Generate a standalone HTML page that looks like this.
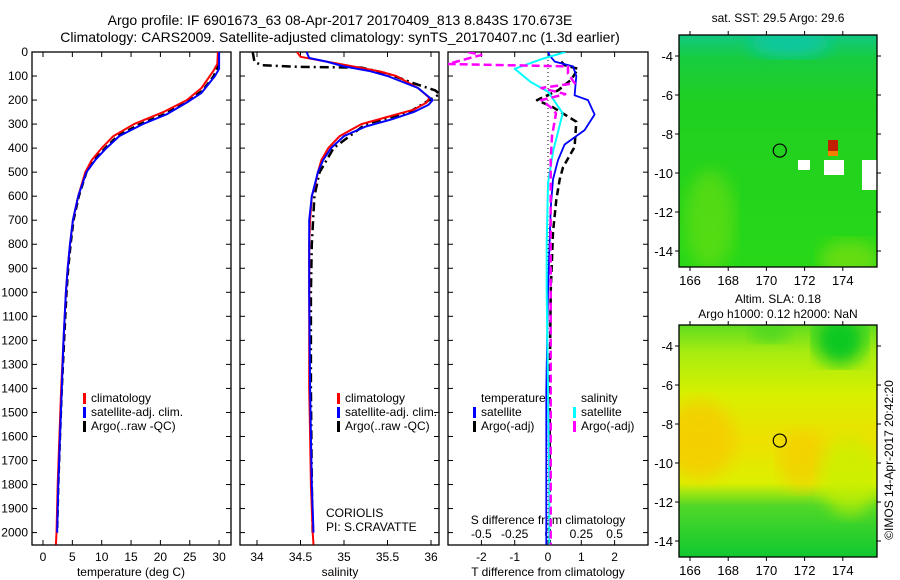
<!DOCTYPE html>
<html><head><meta charset="utf-8"><style>
body{margin:0;background:#fff;}
svg{display:block;font-family:"Liberation Sans",sans-serif;}
</style></head><body>
<svg id="c" width="900" height="580" viewBox="0 0 900 580">
<defs>
<linearGradient id="sstg" x1="0" y1="0" x2="0" y2="1">
<stop offset="0" stop-color="#10c880"/><stop offset="0.1" stop-color="#18cc40"/><stop offset="0.3" stop-color="#20d020"/><stop offset="1" stop-color="#28d818"/>
</linearGradient>
<linearGradient id="slag" x1="0" y1="0" x2="0" y2="1">
<stop offset="0" stop-color="#60dc20"/><stop offset="0.12" stop-color="#a8ec10"/><stop offset="0.3" stop-color="#d8f000"/><stop offset="0.5" stop-color="#eee000"/><stop offset="0.68" stop-color="#dcf000"/><stop offset="0.78" stop-color="#50d828"/><stop offset="1" stop-color="#10c830"/>
</linearGradient>
<filter id="bl"><feGaussianBlur stdDeviation="8"/></filter>
</defs>
<g id="title" font-size="14" text-anchor="middle">
<text x="340" y="25">Argo profile: IF 6901673_63 08-Apr-2017 20170409_813 8.843S 170.673E</text>
<text x="340" y="42">Climatology: CARS2009. Satellite-adjusted climatology: synTS_20170407.nc (1.3d earlier)</text>
</g>
<g id="plots"></g>
<g id="maps"></g>
<text transform="translate(893,460) rotate(-90)" text-anchor="middle" font-size="12">©IMOS 14-Apr-2017 20:42:20</text>
</svg>
<script>
// ---- data (depth in m) ----
const climTdep = [0,50,80,150,200,250,300,350,400,450,500,600,700,800,900,1000,1200,1400,1600,1800,2000,2050];
const climT    = [29.8,29.7,29.0,27.0,24.5,20.5,15.5,12.0,10.0,8.3,7.2,6.0,5.1,4.6,4.2,3.9,3.5,3.1,2.8,2.5,2.3,2.2];
const satTdep  = [0,70,100,170,210,260,300,350,400,450,500,600,700,800,900,1000,1200,1400,1600,1800,2000];
const satT     = [30.0,30.0,29.3,27.0,24.5,21.0,17.0,13.0,10.8,8.9,7.4,6.0,5.1,4.6,4.2,3.9,3.5,3.2,2.9,2.6,2.4];
const argoTdep = [0,60,100,160,210,260,300,350,400,450,500,600,700,800,900,1000,1200,1400,1600,1800,2000];
const argoT    = [29.9,29.8,29.1,27.2,24.4,20.6,16.5,12.7,10.6,8.7,7.4,6.1,5.2,4.7,4.3,4.0,3.6,3.2,2.9,2.6,2.4];

const climSdep = [0,20,40,60,80,100,150,190,210,240,270,300,350,400,450,500,550,600,700,800,1000,1400,1600,1800,2000,2050];
const climS    = [34.46,34.5,34.8,35.1,35.4,35.6,35.85,35.98,35.95,35.8,35.5,35.2,34.95,34.82,34.74,34.7,34.67,34.63,34.61,34.6,34.6,34.6,34.61,34.62,34.64,34.65];
const satSdep  = [0,25,40,60,80,100,150,200,220,250,280,310,350,400,450,500,600,700,800,1000,1400,1600,1800,2000];
const satS     = [34.57,34.6,34.8,35.0,35.3,35.5,35.85,36.02,35.97,35.8,35.55,35.25,35.0,34.85,34.76,34.7,34.63,34.6,34.6,34.6,34.61,34.62,34.63,34.65];
const argoSdep = [0,40,55,62,65,90,130,160,175,200,250,300,400,500,600,800,1000,1400,1800,2000];
const argoS    = [33.95,33.97,34.05,34.5,35.2,35.5,35.8,36.05,36.1,35.98,35.75,35.25,34.88,34.72,34.66,34.63,34.62,34.62,34.63,34.64];

const dTsatDep = [0,15,40,60,100,180,200,260,325,385,450,530,650,780,1000,1400,1800,2050];
const dTsat    = [0,0.05,0.2,0.75,0.85,0.8,1.2,1.4,1.1,0.5,0.3,0.15,0.08,0.05,0.0,-0.05,-0.05,-0.05];
const dTargoDep= [40,55,70,115,160,200,230,290,395,480,530,615,750,1000,1400,1800,2050];
const dTargo   = [0.4,0.5,0.9,0.7,0.3,-0.33,0.15,0.85,0.8,0.45,0.35,0.25,0.15,0.08,0.05,0.05,0.05];
const dSsatDep = [0,30,70,125,165,255,410,545,800,1000,1400,1800,2050];
const dSsat    = [0.13,-0.05,-0.25,-0.13,0.0,0.11,0.04,0.0,-0.01,-0.01,0.0,0.01,0.01];
const dSargoDep= [0,12,50,60,90,130,150,175,200,230,255,350,450,700,1500,2050];
const dSargo   = [-0.6,-0.5,-0.75,0.15,0.15,0.2,-0.05,0.13,-0.05,0.02,0.06,0.03,0.02,0.02,0.02,0.02];

const depthTicks = [0,100,200,300,400,500,600,700,800,900,1000,1100,1200,1300,1400,1500,1600,1700,1800,1900,2000];
const tTicks = [0,5,10,15,20,25,30];
const sTicks = [34,34.5,35,35.5,36];
const dTTicks = [-2,-1,0,1,2];
const dSTicks = [-0.5,-0.25,0,0.25,0.5];
const lonTicks = [166,168,170,172,174];
const latTicks = [-4,-6,-8,-10,-12,-14];

// ---- geometry ----
const Y0=52, Y1=545, yD = d => Y0 + d*0.2403;
const P1={x0:32,x1:231}, P2={x0:240,x1:439}, P3={x0:448,x1:648};
const xT = t => 43 + t*5.87;
const xS = s => 257 + (s-34)*87;
const xdT = v => 548 + v*33.3;
const xdS = v => 548 + v*133.3;
const NS="http://www.w3.org/2000/svg";
const plots=document.getElementById('plots');
function el(tag,attrs,parent){const e=document.createElementNS(NS,tag);for(const k in attrs)e.setAttribute(k,attrs[k]);(parent||plots).appendChild(e);return e;}
function txt(x,y,s,attrs,parent){const e=el('text',Object.assign({x:x,y:y,'font-size':12},attrs||{}),parent);e.textContent=s;return e;}

function panel(P,name){
  const g=el('g',{});
  
  
  const r=el('rect',{x:P.x0,y:Y0,width:P.x1-P.x0,height:Y1-Y0,fill:'none',stroke:'#000','stroke-width':1.3},g);
  
  
  depthTicks.forEach(d=>{
    el('line',{x1:P.x0,x2:P.x0+5,y1:yD(d),y2:yD(d),stroke:'#000'},g);
    el('line',{x1:P.x1-5,x2:P.x1,y1:yD(d),y2:yD(d),stroke:'#000'},g);
  });
  return g;
}
function line(dep,val,fx,color,w,dash,name,clip){
  const pts=dep.map((d,i)=>fx(val[i]).toFixed(1)+','+yD(d).toFixed(1)).join(' ');
  const p=el('polyline',{points:pts,fill:'none',stroke:color,'stroke-width':w,'stroke-linejoin':'round'});
  if(dash)p.setAttribute('stroke-dasharray',dash);
  if(clip)p.setAttribute('clip-path',clip);
  
  
}
const defs=document.querySelector('defs');
[[P1,'c1'],[P2,'c2'],[P3,'c3']].forEach(([P,id])=>{const cp=el('clipPath',{id:id},defs);el('rect',{x:P.x0,y:Y0,width:P.x1-P.x0,height:Y1-Y0},cp);});

// panel 1
panel(P1,'temperature-panel');
depthTicks.forEach(d=>{const t=txt(28,yD(d)+4,String(d),{'text-anchor':'end'});});
tTicks.forEach(t=>{el('line',{x1:xT(t),x2:xT(t),y1:Y1,y2:Y1-5,stroke:'#000'});el('line',{x1:xT(t),x2:xT(t),y1:Y0,y2:Y0+5,stroke:'#000'});
  const l=txt(xT(t),561,String(t),{'text-anchor':'middle'});});
{const a=txt(131,576,'temperature (deg C)',{'text-anchor':'middle'});}
line(argoTdep,argoT,xT,'#000',2.5,'7,4','argo-temperature-line','url(#c1)');
line(climTdep,climT,xT,'#f00',2,null,'climatology-temperature-line','url(#c1)');
line(satTdep,satT,xT,'#00f',2,null,'satellite-temperature-line','url(#c1)');

// panel 2
panel(P2,'salinity-panel');
sTicks.forEach(s=>{el('line',{x1:xS(s),x2:xS(s),y1:Y1,y2:Y1-5,stroke:'#000'});el('line',{x1:xS(s),x2:xS(s),y1:Y0,y2:Y0+5,stroke:'#000'});
  const l=txt(xS(s),561,String(s),{'text-anchor':'middle'});});
{const a=txt(340,576,'salinity',{'text-anchor':'middle'});}
line(argoSdep,argoS,xS,'#000',2.5,'9,4,2,4','argo-salinity-line','url(#c2)');
line(climSdep,climS,xS,'#f00',2,null,'climatology-salinity-line','url(#c2)');
line(satSdep,satS,xS,'#00f',2,null,'satellite-salinity-line','url(#c2)');

function legend(x,rows,name){
  const g=el('g',{});
  
  
  rows.forEach((r,i)=>{const y=402+i*14;
    el('rect',{x:x,y:y-9,width:3,height:11,fill:r[0]},g);
    const t=txt(x+8,y,r[1],{},g);});
}
legend(83,[['#f00','climatology'],['#00f','satellite-adj. clim.'],['#000','Argo(..raw -QC)']],'temperature-legend');
legend(337,[['#f00','climatology'],['#00f','satellite-adj. clim.'],['#000','Argo(..raw -QC)']],'salinity-legend');
{const a=txt(326,517,'CORIOLIS');
 const b=txt(326,531,'PI: S.CRAVATTE');}

// panel 3
panel(P3,'difference-panel');
dTTicks.forEach(t=>{el('line',{x1:xdT(t),x2:xdT(t),y1:Y1,y2:Y1-5,stroke:'#000'});el('line',{x1:xdT(t),x2:xdT(t),y1:Y0,y2:Y0+5,stroke:'#000'});
  const l=txt(xdT(t),561,String(t),{'text-anchor':'middle'});});
dSTicks.forEach(s=>{const l=txt(xdS(s),538,String(s),{'text-anchor':'middle'});});
{const a=txt(548,576,'T difference from climatology',{'text-anchor':'middle'});
 const b=txt(548,524,'S difference from climatology',{'text-anchor':'middle'});}
el('line',{x1:548,x2:548,y1:Y0,y2:Y1,stroke:'#000','stroke-dasharray':'1,3'});
line(dTargoDep,dTargo,xdT,'#000',2.5,'7,4','argo-t-difference-line','url(#c3)');
line(dTsatDep,dTsat,xdT,'#00f',1.8,null,'satellite-t-difference-line','url(#c3)');
line(dSsatDep,dSsat,xdS,'#0ff',2,null,'satellite-s-difference-line','url(#c3)');
line(dSargoDep,dSargo,xdS,'#f0f',2.5,'8,4','argo-s-difference-line','url(#c3)');
{const g=el('g',{});
 txt(481,402,'temperature',{},g);txt(581,402,'salinity',{},g);
 [['#00f',473,'satellite'],['#000',473,'Argo(-adj)'],['#0ff',573,'satellite'],['#f0f',573,'Argo(-adj)']].forEach((r,i)=>{
   const y=416+(i%2)*14;el('rect',{x:r[1],y:y-9,width:3,height:11,fill:r[0]},g);
   const t=txt(r[1]+8,y,r[2],{},g);});}

// ---- maps ----
const maps=document.getElementById('maps');
const MX0=679,MX1=877;
const xLon = l => 690 + (l-166)*19.1;
function map(Ytop,name,fill,title,titleY,extra){
  const g=el('g',{},maps);
  
  
  const cp=el('clipPath',{id:name+'-clip'},defs);el('rect',{x:MX0,y:Ytop,width:MX1-MX0,height:232},cp);
  const inner=el('g',{'clip-path':'url(#'+name+'-clip)'},g);
  el('rect',{x:MX0,y:Ytop,width:MX1-MX0,height:232,fill:fill},inner);
  extra(inner,Ytop);
  el('rect',{x:MX0,y:Ytop,width:MX1-MX0,height:232,fill:'none',stroke:'#000','stroke-width':1.3},g);
  const yLat = l => Ytop+21 + (-4-l)*19.5;
  lonTicks.forEach(l=>{el('line',{x1:xLon(l),x2:xLon(l),y1:Ytop,y2:Ytop-4,stroke:'#000'},g);el('line',{x1:xLon(l),x2:xLon(l),y1:Ytop+232,y2:Ytop+236,stroke:'#000'},g);
    const t=txt(xLon(l),Ytop+250,String(l),{'text-anchor':'middle','font-size':13},g);});
  latTicks.forEach(l=>{el('line',{x1:MX0,x2:MX0-4,y1:yLat(l),y2:yLat(l),stroke:'#000'},g);el('line',{x1:MX1,x2:MX1+4,y1:yLat(l),y2:yLat(l),stroke:'#000'},g);
    const t=txt(673,yLat(l)+5,String(l),{'text-anchor':'end','font-size':13},g);});
  const c=el('circle',{cx:xLon(170.7),cy:yLat(-8.85),r:6.5,fill:'none',stroke:'#000','stroke-width':1.2},g);
  
  title.forEach((s,i)=>{const t=txt(778,titleY+i*15,s,{'text-anchor':'middle'},g);});
}
map(35,'sst-map','url(#sstg)',['sat. SST: 29.5 Argo: 29.6'],22,(g,Y)=>{
  el('ellipse',{cx:790,cy:Y+8,rx:40,ry:14,fill:'#10c8a0',filter:'url(#bl)'},g);
  el('ellipse',{cx:710,cy:Y+185,rx:25,ry:50,fill:'#80e010',opacity:0.5,filter:'url(#bl)'},g);
  el('ellipse',{cx:850,cy:Y+225,rx:30,ry:20,fill:'#90e010',opacity:0.6,filter:'url(#bl)'},g);
  el('rect',{x:828,y:Y+105,width:10,height:12,fill:'#c02000'},g);
  el('rect',{x:828,y:Y+116,width:10,height:5,fill:'#f08000'},g);
  el('rect',{x:862,y:Y+125,width:15,height:30,fill:'#fff'},g);
  el('rect',{x:824,y:Y+125,width:20,height:15,fill:'#fff'},g);
  el('rect',{x:798,y:Y+125,width:12,height:10,fill:'#fff'},g);
});
map(325,'sla-map','url(#slag)',['Altim. SLA: 0.18','Argo h1000: 0.12 h2000: NaN'],303,(g,Y)=>{
  el('ellipse',{cx:700,cy:Y+115,rx:35,ry:40,fill:'#f8c800',opacity:0.7,filter:'url(#bl)'},g);
  el('ellipse',{cx:803,cy:Y+135,rx:25,ry:30,fill:'#f8c800',opacity:0.6,filter:'url(#bl)'},g);
  el('ellipse',{cx:840,cy:Y+15,rx:25,ry:25,fill:'#10c820',filter:'url(#bl)'},g);
  el('ellipse',{cx:770,cy:Y+5,rx:20,ry:12,fill:'#50d820',filter:'url(#bl)'},g);
  el('ellipse',{cx:850,cy:Y+150,rx:30,ry:40,fill:'#c8f000',opacity:0.7,filter:'url(#bl)'},g);
});
</script>
</body></html>
